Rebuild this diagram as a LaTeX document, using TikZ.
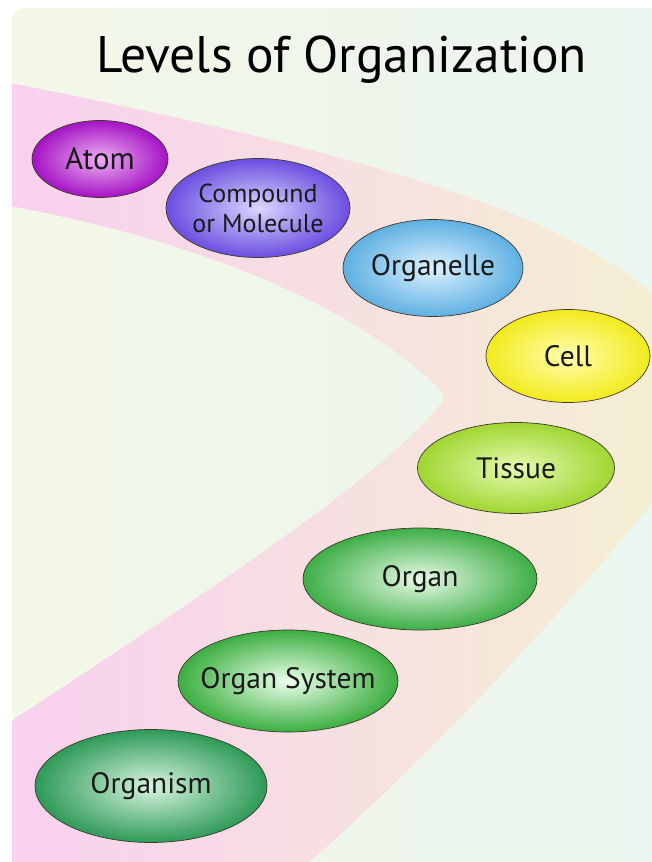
\documentclass[tikz,border=0pt]{standalone}
\usepackage{fontspec}
\setmainfont{PT Sans}
\usetikzlibrary{shapes.geometric}
\definecolor{bgA}{HTML}{F3F7E6}
\definecolor{bgB}{HTML}{EAF6F0}
\definecolor{bandpink}{HTML}{F9D0F0}
\definecolor{bandpeach}{HTML}{F8DCCC}
\definecolor{bandyellow}{HTML}{F4EFD2}
\definecolor{edgecol}{HTML}{3A3A2A}
\definecolor{txt}{HTML}{1A1A1A}
\definecolor{atomO}{HTML}{A412C4}
\definecolor{atomI}{HTML}{EEB0F4}
\definecolor{compO}{HTML}{6A4EE0}
\definecolor{compI}{HTML}{DCD6FF}
\definecolor{orgnO}{HTML}{5EB0E2}
\definecolor{orgnI}{HTML}{DDF2FF}
\definecolor{cellO}{HTML}{F2EA1C}
\definecolor{cellI}{HTML}{FFFFB0}
\definecolor{tissO}{HTML}{A0D632}
\definecolor{tissI}{HTML}{E6FAB0}
\definecolor{organO}{HTML}{3EAE46}
\definecolor{organI}{HTML}{E8FAE8}
\definecolor{osysO}{HTML}{3CAE40}
\definecolor{osysI}{HTML}{ECFFEC}
\definecolor{orgsO}{HTML}{2E9A58}
\definecolor{orgsI}{HTML}{D8F4E0}
\tikzset{
  lvl/.style={ellipse, draw=edgecol, line width=0.7pt, inner sep=-30pt,
    font=\fontsize{29.5}{30}\selectfont, text=txt, align=center},
  titlestyle/.style={font=\fontsize{51.5}{58}\selectfont, text=black, inner sep=0pt}
}
\begin{document}
\begin{tikzpicture}[x=1pt,y=-1pt]
\useasboundingbox (0,0) rectangle (652,862);
\fill[white] (0,0) rectangle (652,862);
\begin{scope}
\clip[rounded corners=12pt] (12,8) rectangle (672,882);
\shade[left color=bgA, right color=bgB] (12,8) rectangle (652,862);
\shade[left color=bandpink, middle color=bandpeach, right color=bandyellow]
 (5,82) .. controls (250,130) and (450,180) .. (560,235)
 .. controls (620,265) and (650,290) .. (670,310)
 -- (670,480)
 .. controls (600,570) and (450,740) .. (300,870)
 -- (5,870) -- (5,740)
 .. controls (5,725) and (12,720) .. (25,712)
 .. controls (180,610) and (380,480) .. (440,405)
 .. controls (445,398) and (445,394) .. (438,388)
 .. controls (380,330) and (250,250) .. (5,205) -- cycle;
\end{scope}
\node[titlestyle] (title) at (342,60) {Levels of Organization};
\node[lvl, minimum width=136pt, minimum height=77pt, inner color=atomI, outer color=atomO, font=\fontsize{31}{32}\selectfont] (atom) at (100,159) {Atom};
\node[lvl, minimum width=184pt, minimum height=99pt, inner color=compI, outer color=compO, font=\fontsize{26}{30}\selectfont] (comp) at (258,208) {Compound\\or Molecule};
\node[lvl, minimum width=180pt, minimum height=97pt, inner color=orgnI, outer color=orgnO] (orgn) at (433,268) {Organelle};
\node[lvl, minimum width=164pt, minimum height=93pt, inner color=cellI, outer color=cellO] (cell) at (568,356) {Cell};
\node[lvl, minimum width=197pt, minimum height=91pt, inner color=tissI, outer color=tissO] (tiss) at (516,468) {Tissue};
\node[lvl, minimum width=234pt, minimum height=102pt, inner color=organI, outer color=organO] (organ) at (420,579) {Organ};
\node[lvl, minimum width=220pt, minimum height=102pt, inner color=osysI, outer color=osysO] (osys) at (288,681) {Organ System};
\node[lvl, minimum width=232pt, minimum height=113pt, inner color=orgsI, outer color=orgsO] (orgs) at (151,786) {Organism};
\end{tikzpicture}
\end{document}
